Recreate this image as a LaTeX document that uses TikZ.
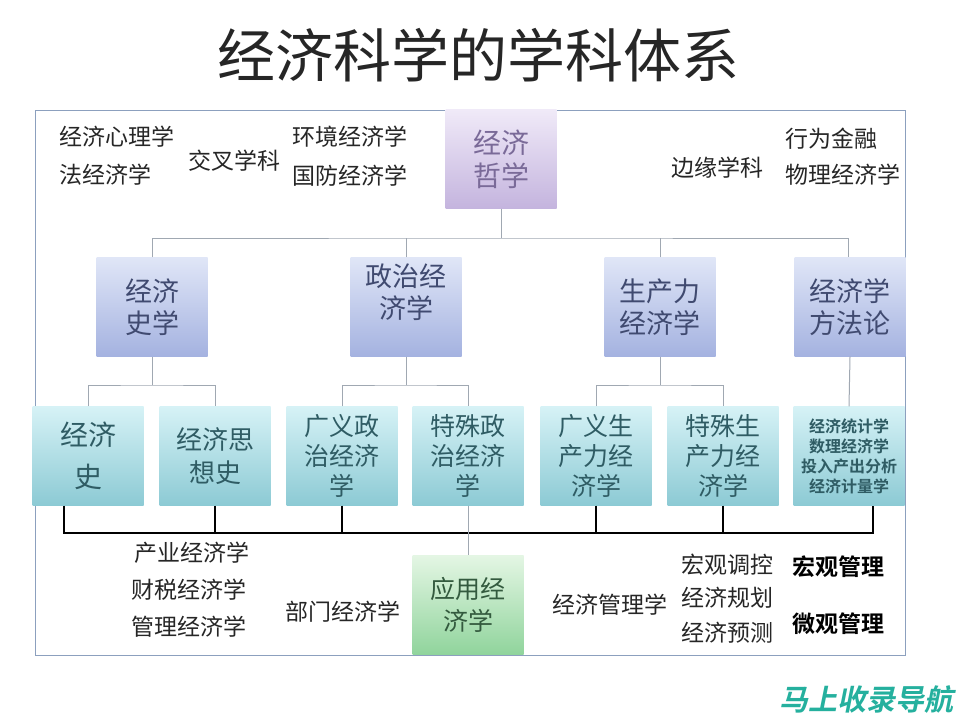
\documentclass[tikz,border=0pt]{standalone}
\usepackage{fontspec}
\setmainfont{Noto Sans CJK SC}[BoldFont={Noto Sans CJK SC Bold}]
\newfontfamily\markfont{Noto Sans CJK SC Bold}[FakeSlant=0.2]
\usetikzlibrary{positioning}
\definecolor{framec}{RGB}{140,160,190}
\definecolor{treec}{RGB}{160,168,178}
\definecolor{philtop}{RGB}{240,234,248}
\definecolor{philbot}{RGB}{196,180,222}
\definecolor{philtext}{RGB}{122,106,152}
\definecolor{histtop}{RGB}{224,230,247}
\definecolor{histbot}{RGB}{164,178,224}
\definecolor{histtext}{RGB}{64,74,112}
\definecolor{subtop}{RGB}{214,242,246}
\definecolor{subbot}{RGB}{140,202,212}
\definecolor{subtext}{RGB}{47,92,100}
\definecolor{appltop}{RGB}{228,246,228}
\definecolor{applbot}{RGB}{144,212,156}
\definecolor{appltext}{RGB}{51,90,62}
\definecolor{markc}{RGB}{37,176,158}
\tikzset{every topic/.style={inner sep=0pt, minimum width=111pt, minimum height=99pt, align=center},
        phil box/.style = {every topic, top color=philtop, bottom color=philbot,
                           text=philtext, font=\fontsize{28}{33}\selectfont},
        field box/.style = {every topic, top color=histtop, bottom color=histbot,
                            text=histtext, font=\fontsize{27}{32}\selectfont},
        sub box/.style = {every topic, top color=subtop, bottom color=subbot,
                          text=subtext, font=\fontsize{25}{30}\selectfont},
        appl box/.style = {every topic, top color=appltop, bottom color=applbot,
                           text=appltext, font=\fontsize{25}{32}\selectfont},
        plain/.style = {inner sep=0pt, text=black!85, font=\fontsize{23}{23}\selectfont},
        tree/.style = {draw=treec, line width=1pt},
        bus/.style = {draw=black, line width=1.2pt},
        }

\begin{document}
\begin{tikzpicture}[x=1pt, y=-1pt]
    \useasboundingbox (0,0) rectangle (960,720);

    \node [font=\fontsize{58}{58}\selectfont, text=black!85] (title) at (478,55) {经济科学的学科体系};

    \draw [draw=framec, line width=1pt] (35,110) rectangle (905,655);

    \node [phil box] (phil) at (501,159) {经济\\哲学};

    \node [field box] (hist) at (152,307) {经济\\史学};
    \node [field box] (polit) at (406,307) {政治经\\济学\\\mbox{}};
    \node [field box] (prod) at (660,307) {生产力\\经济学};
    \node [field box] (method) at (850,307) {经济学\\方法论};

    \node [sub box, font=\fontsize{28}{42}\selectfont] (ehist) at (88,456) {经济\\史};
    \node [sub box, font=\fontsize{26}{33}\selectfont] (ethought) at (215,456) {经济思\\想史};
    \node [sub box] (gpolit) at (342,456) {广义政\\治经济\\学};
    \node [sub box] (spolit) at (468,456) {特殊政\\治经济\\学};
    \node [sub box] (gprod) at (596,456) {广义生\\产力经\\济学};
    \node [sub box] (sprod) at (723,456) {特殊生\\产力经\\济学};
    \node [sub box, font=\bfseries\fontsize{16}{20}\selectfont] (quant) at (849,456)
        {经济统计学\\数理经济学\\投入产出分析\\经济计量学};

    \node [appl box] (appl) at (468,605) {应用经\\济学};

    % tree lines
    \coordinate (busA) at (501,238);
    \coordinate (busB) at (0,385);
    \coordinate (busC) at (0,533);
    \draw [tree] (phil) -- (busA);
    \draw [tree] (hist.north) |- (busA) -| ([xshift=-2pt]method.north);
    \draw [tree] (polit.north) -- (polit.north |- busA);
    \draw [tree] (prod.north) -- (prod.north |- busA);

    \draw [tree] (hist.south) -- (hist.south |- busB);
    \draw [tree] (ehist.north) |- (hist.south |- busB) -| (ethought.north);
    \draw [tree] (polit.south) -- (polit.south |- busB);
    \draw [tree] (gpolit.north) |- (polit.south |- busB) -| (spolit.north);
    \draw [tree] (prod.south) -- (prod.south |- busB);
    \draw [tree] (gprod.north) |- (prod.south |- busB) -| (sprod.north);
    \draw [tree] (method.south) -- (quant.north);

    \draw [bus] ([xshift=-24pt]ehist.south) |- ([xshift=24pt]quant.south |- busC)
        -- ([xshift=24pt]quant.south);
    \foreach \n in {ethought,gpolit,gprod,sprod}
        \draw [bus] (\n.south) -- (\n.south |- busC);
    \draw [tree] (spolit.south) -- (appl.north);

    % side fields
    \node [plain, anchor=west] (psy) at (59,137) {经济心理学};
    \node [plain, anchor=west] (law) at (59,175) {法经济学};
    \node [plain] (cross) at (234,161) {交叉学科};
    \node [plain, anchor=west] (env) at (292,137) {环境经济学};
    \node [plain, anchor=west] (def) at (292,176) {国防经济学};
    \node [plain] (edge) at (717,168) {边缘学科};
    \node [plain, anchor=west] (behav) at (785,139) {行为金融};
    \node [plain, anchor=west] (phys) at (785,175) {物理经济学};

    \node [plain, anchor=west] (indus) at (134,553) {产业经济学};
    \node [plain, anchor=west] (fisc) at (131,590) {财税经济学};
    \node [plain, anchor=west] (manag) at (131,627) {管理经济学};
    \node [plain] (dept) at (343,612) {部门经济学};
    \node [plain] (emanag) at (610,605) {经济管理学};
    \node [plain, anchor=west] (macro) at (681,565) {宏观调控};
    \node [plain, anchor=west] (plan) at (681,598) {经济规划};
    \node [plain, anchor=west] (fore) at (681,633) {经济预测};
    \node [plain, anchor=west, font=\bfseries\fontsize{23}{23}\selectfont, text=black] (macman) at (792,567) {宏观管理};
    \node [plain, anchor=west, font=\bfseries\fontsize{23}{23}\selectfont, text=black] (micman) at (792,624) {微观管理};

    \node [text=markc, font=\markfont\fontsize{29}{29}\selectfont, anchor=east, inner sep=0pt] (mark) at (954,699) {马上收录导航};

\end{tikzpicture}
\end{document}
